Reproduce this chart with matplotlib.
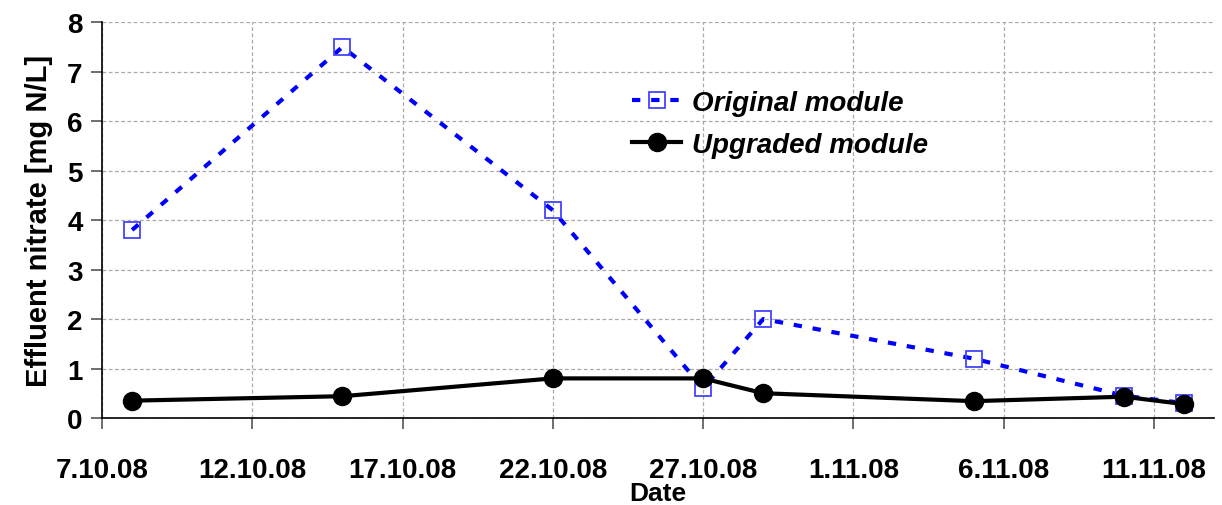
import numpy as np
import pandas as pd
import matplotlib
matplotlib.use('Agg')
import matplotlib.pyplot as plt

plt.rcParams['font.family'] = ['Liberation Sans', 'DejaVu Sans']
plt.rcParams['font.weight'] = 'bold'

# Sampling dates and effluent nitrate [mg N/L]
dates = pd.to_datetime(['2008-10-08', '2008-10-15', '2008-10-22', '2008-10-27',
                        '2008-10-29', '2008-11-05', '2008-11-10', '2008-11-12'])
original = [3.8, 7.5, 4.2, 0.6, 2.0, 1.2, 0.45, 0.3]
upgraded = [0.35, 0.44, 0.8, 0.8, 0.5, 0.34, 0.43, 0.28]

tick_dates = pd.date_range('2008-10-07', periods=8, freq='5D')
x_start = pd.Timestamp('2008-10-07')
x_end = pd.Timestamp('2008-11-13')

fig = plt.figure(figsize=(12.22, 5.06), dpi=100, facecolor='w')
ax = fig.add_axes([0.0835, 0.172, 0.91, 0.782])

ax.plot(dates, original, color='#0000ff', linestyle=(0, (2.0, 2.6)), linewidth=3,
        marker='s', markersize=12, markerfacecolor='none', markeredgecolor='#4444ff',
        markeredgewidth=1.3, label='Original module', zorder=3)
ax.plot(dates, upgraded, color='black', linestyle='-', linewidth=3,
        marker='o', markersize=13, markerfacecolor='black', markeredgecolor='black',
        label='Upgraded module', zorder=4)

ax.set_xlim(x_start, x_end)
ax.set_ylim(0, 8)
ax.set_yticks(np.arange(0, 9, 1))
ax.set_xticks(tick_dates)
ax.set_xticklabels([f"{d.day}.{d.month}.{d:%y}" for d in tick_dates])

ax.grid(True, color='#aaaaaa', linestyle=(0, (3, 2)), linewidth=0.9)
ax.set_axisbelow(True)
for side in ['top', 'right']:
    ax.spines[side].set_visible(False)
for side in ['left', 'bottom']:
    ax.spines[side].set_linewidth(1.2)

ax.tick_params(axis='both', direction='out', length=8, width=1.2, color='#555555',
               labelsize=20)
ax.tick_params(axis='x', pad=20)
ax.tick_params(axis='y', pad=6)
for lbl in ax.get_xticklabels() + ax.get_yticklabels():
    lbl.set_fontweight('bold')

ax.set_xlabel('Date', fontsize=19, fontweight='bold', labelpad=-1)
ax.set_ylabel('Effluent nitrate [mg N/L]', fontsize=21, fontweight='bold', labelpad=10)

leg = ax.legend(loc='upper left', bbox_to_anchor=(0.477, 0.83), frameon=False,
                prop={'size': 20, 'weight': 'bold', 'style': 'italic'},
                handlelength=1.75, handletextpad=0.4, labelspacing=0.6, borderpad=0,
                borderaxespad=0)

fig.savefig('out.png', dpi=100)
